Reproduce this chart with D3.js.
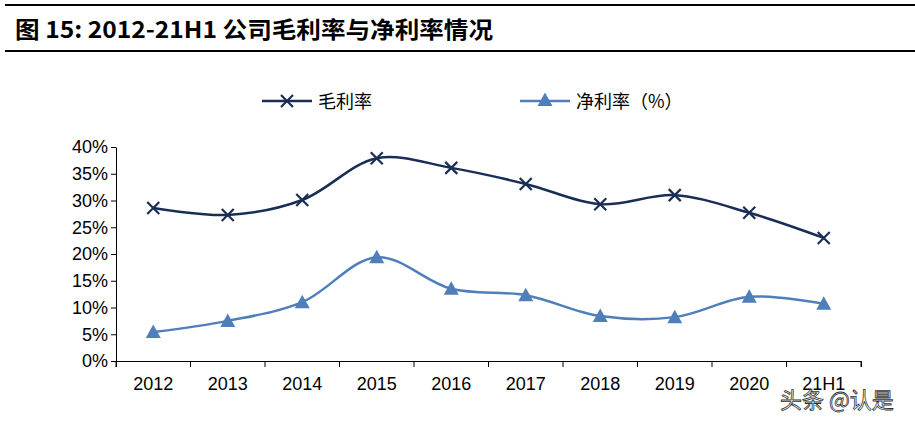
<!DOCTYPE html>
<html><head><meta charset="utf-8">
<script src="https://cdn.jsdelivr.net/npm/d3@7"></script>
<style>body{margin:0;background:#fff}</style>
</head><body><svg id="c" width="915" height="425"></svg>
<script>
const years = ["2012","2013","2014","2015","2016","2017","2018","2019","2020","21H1"];
const grossMargin = [28.6,27.3,30.1,37.9,36.1,33.1,29.3,31.0,27.7,23.0];
const netMargin = [5.4,7.5,11.0,19.4,13.5,12.3,8.4,8.2,12.0,10.7];
const yTicks = [0,5,10,15,20,25,30,35,40];

const svg = d3.select("#c");
const font = "Arial, 'Liberation Sans', sans-serif";
const cjk = "'Noto Sans CJK SC', sans-serif";

// header
svg.append("rect").attr("x",5).attr("width",910).attr("y",4).attr("height",2).attr("fill","#000");
svg.append("rect").attr("x",5).attr("width",910).attr("y",50).attr("height",2).attr("fill","#000");
svg.append("text").attr("x",15).attr("y",38).attr("font-family",cjk).attr("font-weight","bold").attr("font-size",23)
    .attr("textLength",478).attr("lengthAdjust","spacingAndGlyphs")
    .text("图 15:  2012-21H1 公司毛利率与净利率情况");

const x = d3.scaleBand().domain(years).range([116,861]);
const y = d3.scaleLinear().domain([0,40]).range([361,147]);
const cx = d => x(d) + x.bandwidth()/2;

const gx = svg.append("g").attr("transform","translate(0,361)")
    .call(d3.axisBottom(x).tickSizeInner(6).tickSizeOuter(6));
gx.selectAll(".tick line").attr("transform",`translate(${x.bandwidth()/2},0)`);
gx.selectAll(".tick text").attr("font-family",font).attr("font-size",18).attr("fill","#000").attr("dy","1.1em");
svg.append("line").attr("x1",116).attr("x2",116).attr("y1",361).attr("y2",367).attr("stroke","#000");

const gy = svg.append("g").attr("transform","translate(116,0)")
    .call(d3.axisLeft(y).tickValues(yTicks).tickFormat(d=>d+"%").tickSizeInner(5).tickSizeOuter(0));
gy.selectAll(".tick text").attr("font-family",font).attr("font-size",18).attr("fill","#000");

const line = d3.line().x((d,i)=>cx(years[i])).y(d=>y(d)).curve(d3.curveCatmullRom.alpha(0.5));

svg.append("path").attr("d",line(grossMargin)).attr("fill","none").attr("stroke","#1a2e55").attr("stroke-width",2.5);
svg.append("path").attr("d",line(netMargin)).attr("fill","none").attr("stroke","#4f7fba").attr("stroke-width",2.5);

function cross(g,px,py,s){
  g.append("path").attr("d",`M${px-s},${py-s}L${px+s},${py+s}M${px-s},${py+s}L${px+s},${py-s}`)
   .attr("stroke","#1a2e55").attr("stroke-width",2.2);
}
function tri(g,px,py,s){
  g.append("path").attr("d",`M${px},${py-s}L${px+s},${py+s*0.8}L${px-s},${py+s*0.8}Z`).attr("fill","#4f7fba");
}
const mk = svg.append("g");
grossMargin.forEach((v,i)=>cross(mk,cx(years[i]),y(v),6));
netMargin.forEach((v,i)=>tri(mk,cx(years[i]),y(v),7.5));

// legend
svg.append("line").attr("x1",262).attr("x2",312).attr("y1",101).attr("y2",101).attr("stroke","#1a2e55").attr("stroke-width",2.5);
cross(svg,287,101,6);
svg.append("text").attr("x",318).attr("y",108).attr("font-family",cjk).attr("font-size",18).text("毛利率");
svg.append("line").attr("x1",520).attr("x2",570).attr("y1",101).attr("y2",101).attr("stroke","#4f7fba").attr("stroke-width",2.5);
tri(svg,545,100,7.5);
svg.append("text").attr("x",576).attr("y",108).attr("font-family",cjk).attr("font-size",18).text("净利率（%）");

// watermark
svg.append("text").attr("x",780).attr("y",408).attr("font-family",cjk).attr("font-size",22)
   .attr("fill","#fff").attr("stroke","#333").attr("stroke-width",0.8).text("头条 @认是");
</script></body></html>
